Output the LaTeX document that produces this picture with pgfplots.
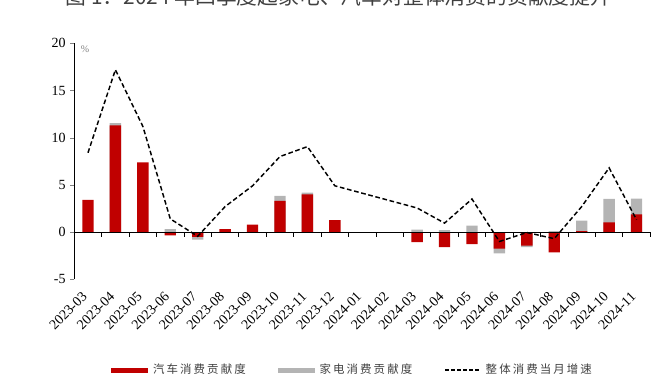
\documentclass[border=0pt]{standalone}
\usepackage{fontspec}
\setmainfont{Liberation Serif}
\newfontfamily\cjk{Noto Sans CJK SC}
\newfontfamily\cjkl[LetterSpace=18]{Noto Sans CJK SC}
\usepackage{pgfplots}
\pgfplotsset{compat=1.18}
\usepackage{pgfplotstable}
\definecolor{carred}{RGB}{192,0,0}
\definecolor{appgray}{RGB}{180,180,180}
\definecolor{txtgray}{RGB}{64,64,64}

% red = car contribution, gray = appliance contribution,
% grayend = where the gray segment ends (stacked on red when same sign), total = overall growth
\pgfplotstableread{
x red gray grayend total
0 3.42 0 0 8.4
1 11.29 0.24 11.53 17.2
2 7.37 0 0 11.2
3 -0.35 0.30 0.30 1.4
4 -0.50 -0.30 -0.80 -0.45
5 0.32 0 0 2.7
6 0.80 0 0 4.9
7 3.30 0.52 3.82 8.0
8 4.00 0.17 4.17 9.05
9 1.27 0 0 4.9
10 nan nan nan nan
11 nan nan nan nan
12 -1.06 0.25 0.25 2.55
13 -1.59 0.20 0.20 0.95
14 -1.27 0.67 0.67 3.5
15 -1.76 -0.50 -2.26 -1.0
16 -1.45 -0.14 -1.59 -0.05
17 -2.15 0.10 0.10 -0.7
18 0.10 1.10 1.20 2.7
19 1.02 2.50 3.52 6.8
20 1.87 1.66 3.53 1.3
}\datatable

\begin{document}
\begin{tikzpicture}
\path[use as bounding box] (0,0) rectangle (498.75pt,282.75pt);
\node[anchor=base, inner sep=0pt, text=txtgray, font=\cjk\fontsize{15.6}{18}\selectfont] at (253.9pt,279.4pt) {图 1：2024 年四季度起家电、汽车对整体消费的贡献度提升};
\begin{axis}[
  at={(55.7pt,73.3pt)}, anchor=south west,
  width=432pt, height=177pt, scale only axis,
  xmin=-0.5, xmax=20.5, ymin=-5, ymax=20,
  axis y line*=left, axis x line*=bottom,
  x axis line style={draw=none},
  xtick={0,...,20},
  xticklabels={2023-03,2023-04,2023-05,2023-06,2023-07,2023-08,2023-09,2023-10,2023-11,2023-12,2024-01,2024-02,2024-03,2024-04,2024-05,2024-06,2024-07,2024-08,2024-09,2024-10,2024-11},
  major x tick style={draw=none},
  xticklabel shift=6pt,
  xticklabel style={rotate=45, anchor=east, font=\fontsize{10.5}{12}\selectfont},
  ytick={-5,0,5,10,15,20},
  yticklabel style={font=\fontsize{10.5}{12}\selectfont},
  tick align=outside, major tick length=3pt,
  /pgf/number format/assume math mode=true,
  clip=false,
  legend columns=3,
  legend style={at={(axis description cs:0.0568,-0.384)}, anchor=west, draw=none, fill=none,
    font=\cjkl\fontsize{8.6}{10}\selectfont, text=txtgray,
    /tikz/every even column/.append style={column sep=22pt},
    /tikz/every odd column/.append style={column sep=2pt}},
]
\addplot[ybar, bar width=8.5pt, bar shift=0pt, fill=appgray, draw=none, forget plot] table[x=x, y=grayend] {\datatable};
\addplot[ybar, bar width=8.5pt, bar shift=0pt, fill=carred, draw=none, forget plot] table[x=x, y=red] {\datatable};
\draw[black, line width=0.8pt] (axis cs:-0.5,0) -- (axis cs:20.5,0);
\pgfplotsinvokeforeach{0.5,1.5,2.5,3.5,4.5,5.5,6.5,7.5,8.5,9.5,10.5,11.5,12.5,13.5,14.5,15.5,16.5,17.5,18.5,19.5,20.5}{
  \draw[black, line width=0.6pt] (axis cs:#1,0) -- ++(0pt,-3.5pt);
}
\addlegendimage{legend image code/.code={\fill[carred] (0pt,-1.5pt) rectangle (27pt,1.5pt);}}
\addlegendentry{汽车消费贡献度}
\addlegendimage{legend image code/.code={\fill[appgray] (0pt,-1.5pt) rectangle (27pt,1.5pt);}}
\addlegendentry{家电消费贡献度}
\addplot[black, line width=1.1pt, dash pattern=on 3.5pt off 2pt,
  legend image code/.code={\draw[black, line width=1.1pt, dash pattern=on 3pt off 1.5pt] (0pt,0pt) -- (26pt,0pt);}]
  table[x=x, y=total] {\datatable};
\addlegendentry{整体消费当月增速}
\node[text=gray, font=\fontsize{7.5}{9}\selectfont] at (rel axis cs:0.0186,0.975) {\%};
\end{axis}
\end{tikzpicture}
\end{document}
